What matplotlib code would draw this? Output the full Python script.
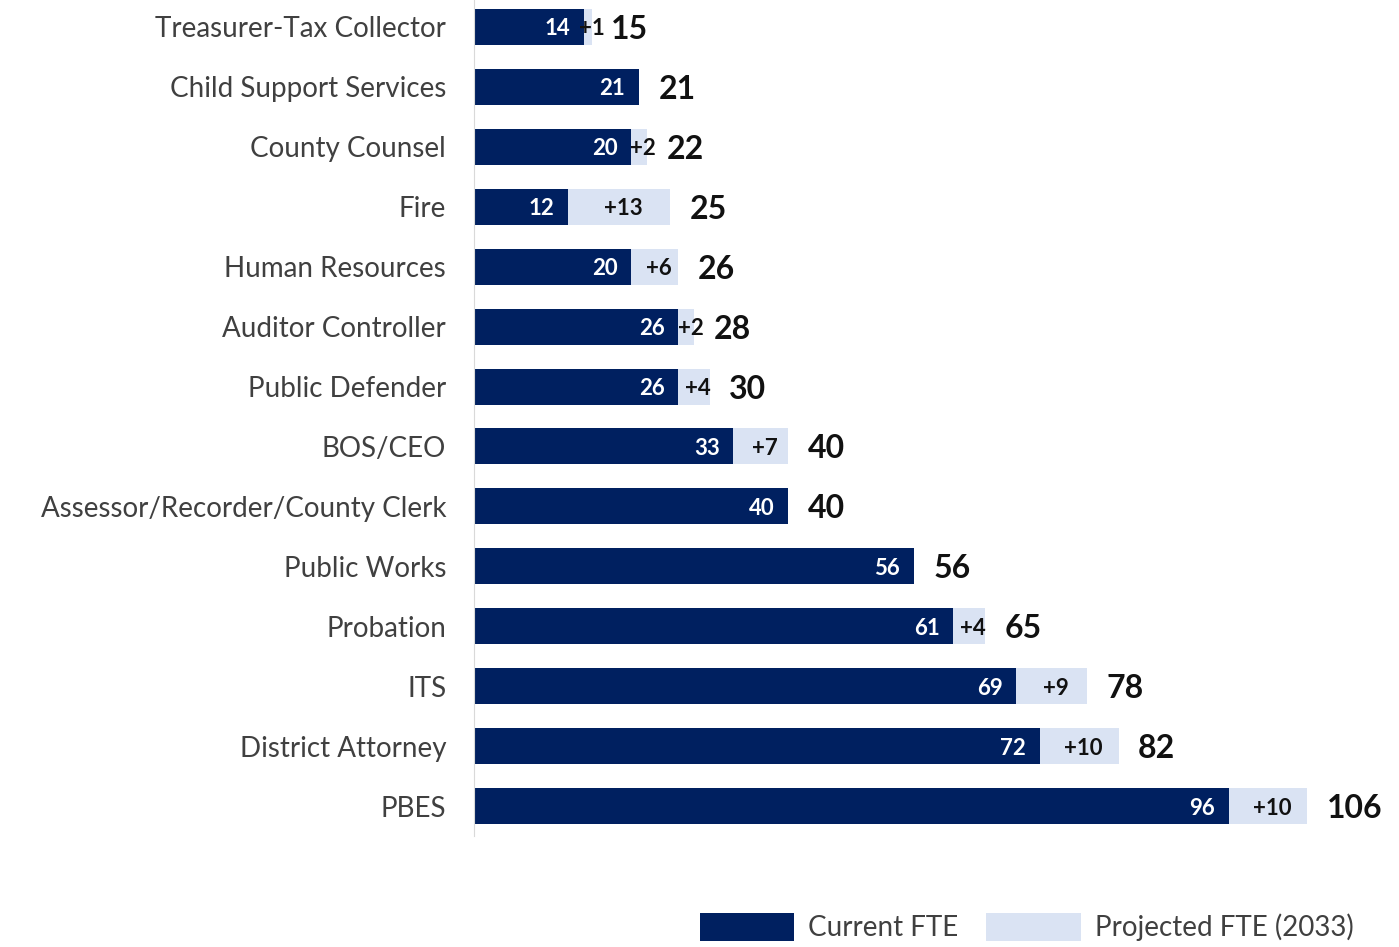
import matplotlib.pyplot as plt

departments = [
    "Treasurer-Tax Collector", "Child Support Services", "County Counsel", "Fire",
    "Human Resources", "Auditor Controller", "Public Defender", "BOS/CEO",
    "Assessor/Recorder/County Clerk", "Public Works", "Probation", "ITS",
    "District Attorney", "PBES",
]
current_fte = [14, 21, 20, 12, 20, 26, 26, 33, 40, 56, 61, 69, 72, 96]
added_fte = [1, 0, 2, 13, 6, 2, 4, 7, 0, 0, 4, 9, 10, 10]

DARK = "#002060"
LIGHT = "#DAE3F3"
plt.rcParams["font.family"] = ["Lato", "DejaVu Sans"]

fig = plt.figure(figsize=(13.99, 9.47), dpi=100)
ax = fig.add_axes([474 / 1399, 1 - 836 / 947, 1 - 474 / 1399, 836 / 947])

ys = list(range(len(departments)))
totals = [c + a for c, a in zip(current_fte, added_fte)]
ax.barh(ys, current_fte, height=0.6, color=DARK, label="Current FTE")
ax.barh(ys, added_fte, left=current_fte, height=0.6, color=LIGHT,
        label="Projected FTE (2033)")

for y, cur, add, tot in zip(ys, current_fte, added_fte, totals):
    ax.annotate(str(cur), (cur, y), xytext=(-10, 0), textcoords="offset points",
                ha="right", va="center_baseline", color="white", fontsize=16,
                fontweight="bold")
    if add:
        ax.annotate(f"+{add}", (cur + add / 2, y), xytext=(3, 0), textcoords="offset points",
                    ha="center", va="center_baseline", color="#111111", fontsize=16,
                    fontweight="bold")
    ax.annotate(str(tot), (tot, y), xytext=(14, 0), textcoords="offset points",
                ha="left", va="center_baseline", color="#111111", fontsize=23,
                fontweight="bold")

ax.set_xlim(0, (1399 - 474) / 7.86)
ax.set_ylim(13.5, -0.45)
ax.set_yticks(ys)
ax.set_yticklabels(departments, fontsize=20, color="#404040")
ax.tick_params(axis="y", length=0, pad=20)
ax.set_xticks([])
for side in ["top", "right", "bottom"]:
    ax.spines[side].set_visible(False)
ax.spines["left"].set_color("#d9d9d9")

fig.legend(loc="center left", bbox_to_anchor=(700 / 1399, 1 - 927 / 947),
           ncol=2, frameon=False, fontsize=20, labelcolor="#404040",
           handlelength=3.4, handleheight=1.2, handletextpad=0.5,
           columnspacing=1.0, borderpad=0, borderaxespad=0)

fig.savefig("out.png", dpi=100)
